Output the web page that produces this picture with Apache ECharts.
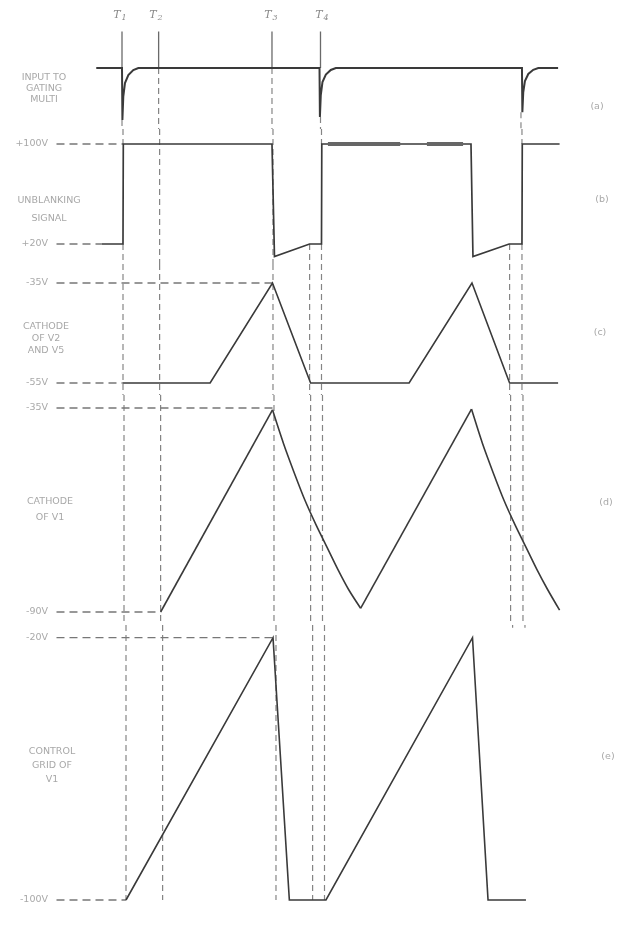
<!DOCTYPE html>
<html><head><meta charset="utf-8">
<script src="https://cdn.jsdelivr.net/npm/echarts@6/dist/echarts.min.js"></script>
<style>html,body{margin:0;padding:0;background:#fff}#c{width:621px;height:930px}</style>
</head><body><div id="c"></div><script>
// ---------- DATA (time in arbitrary units: T1 = 0, T4 = 200) ----------
const timeMarkNames = ['1', '2', '3', '4'];
const timeMarks = [0, 37, 151.5, 200.5];

// (a) Input to gating multi (relative amplitude: 0 = baseline, -1 = full negative pulse)
const inputT = [-26, 0, 0.4, 1.3, 3, 6.4, 11.4, 16.5,
                199.5, 199.9, 200.8, 202.5, 205.9, 210.9, 216,
                404, 404.4, 405.3, 407, 410.4, 415.4, 420.5, 440.5];
const inputV = [0, 0, -1, -0.55, -0.29, -0.135, -0.04, 0,
                0, -0.94, -0.52, -0.27, -0.127, -0.038, 0,
                0, -0.85, -0.47, -0.25, -0.115, -0.034, 0, 0];

// (b) Unblanking signal (V)
const unblankT = [-21.5, 0, 0.3, 150.5, 153, 188.5, 200.5, 200.8, 351.5, 353.5, 390, 403, 403.3, 441];
const unblankV = [20, 20, 100, 100, 10, 20, 20, 100, 100, 10, 20, 20, 100, 100];
const unblankHeavyA = [207, 280];
const unblankHeavyB = [307, 343.5];

// (c) Cathode of V2 and V5 (V)
const cathode25T = [0, 88, 151, 189.5, 289, 352.5, 390.5, 439.5];
const cathode25V = [-55, -55, -35, -55, -55, -35, -55, -55];

// (d) Cathode of V1 (V): linear run-ups and curved run-downs
const cathode1RiseT = [37, 150, 239, 351];
const cathode1RiseV = [-90, -35.5, -89, -35.3];
const cathode1FallAT = [150, 161, 172, 183, 194, 205, 216, 227, 239];
const cathode1FallAV = [-35.5, -44.5, -52.5, -60, -66.5, -72.5, -78.5, -84, -89];
const cathode1FallBT = [351, 362, 373, 384, 395, 406, 417, 428, 440];
const cathode1FallBV = [-35.3, -44.5, -52.5, -60, -66.5, -72.5, -78.5, -84, -89.5];

// (e) Control grid of V1 (V)
const gridT = [0, 148.5, 165, 202, 350, 365.7, 404];
const gridV = [-100, -20, -100, -100, -20, -100, -100];

// voltage tick labels of each panel
const ticksB = [100, 20];
const ticksC = [-35, -55];
const ticksD = [-35, -90];
const ticksE = [-20, -100];

// horizontal reference dashes: [panel, volts, end time]
const refPanel = [1, 1, 2, 2, 3, 3, 4, 4];
const refVolts = [100, 20, -35, -55, -35, -90, -20, -100];
const refEnd   = [0, -21.5, 151, 0, 150, 37, 148.5, 0];

// extra vertical construction lines (times)
const extraMarks = [188.5, 390.5, 403];

const panelNames = ['INPUT TO\nGATING\nMULTI', 'UNBLANKING\nSIGNAL', 'CATHODE\nOF V2\nAND V5', 'CATHODE\nOF V1', 'CONTROL\nGRID OF\nV1'];
const panelTags = ['(a)', '(b)', '(c)', '(d)', '(e)'];

// ---------- LAYOUT ----------
const PXU = 0.99;               // px per time unit
const gridLeft = 56;
const bands = [[0,129],[129,264],[264,395],[395,625],[625,930]];
const baseX = [122, 123, 123, 124, 126];   // pixel of t = 0 in each panel (scan skew)
const refPts = [[0,68,-1,120],[100,144,20,244],[-35,283,-55,383],[-35,408,-90,612],[-20,637.7,-100,900]];
const nameBox = [[44,89,11],[49,210,18],[46,339,12],[50,510,16],[52,766,14]];
const tagBox = [[597,107],[602,200],[600,333],[606,503],[608,757]];
const tLabelX = [120, 156, 271, 322];

const yr = bands.map((b, i) => {
  const [v1, p1, v2, p2] = refPts[i];
  const s = (p2 - p1) / (v1 - v2);
  return { max: v1 + (p1 - b[0]) / s, min: v1 - (b[1] - p1) / s };
});
const zip = (a, b) => a.map((x, i) => [x, b[i]]);

const WAVE = '#3a3a3a', GUIDE = '#858585', TXT = '#a8a8a8';
const grids = [], xAxes = [], yAxes = [], series = [];
const tickSets = [null, ticksB, ticksC, ticksD, ticksE];
bands.forEach((b, i) => {
  grids.push({ left: gridLeft, right: 0, top: b[0], height: b[1] - b[0] });
  xAxes.push({ type: 'value', gridIndex: i, show: false,
    min: (gridLeft - baseX[i]) / PXU, max: (621 - baseX[i]) / PXU });
  yAxes.push({ type: 'value', gridIndex: i, min: yr[i].min, max: yr[i].max,
    show: !!tickSets[i],
    axisLine: { show: false }, axisTick: { show: false }, splitLine: { show: false },
    axisLabel: tickSets[i] ? { customValues: tickSets[i], margin: 8, color: TXT, fontSize: 9.5,
      fontFamily: 'DejaVu Sans', formatter: v => (v > 0 ? '+' : '') + v + 'V' } : { show: false } });
});

function seg(i, t, v1, v2, dashed) {
  series.push({ type: 'line', xAxisIndex: i, yAxisIndex: i, symbol: 'none', silent: true,
    data: [[t, v1], [t, v2]], z: 1,
    lineStyle: { color: dashed ? GUIDE : '#6a6a6a', width: dashed ? 1.2 : 1.3, type: dashed ? [6, 4] : 'solid' } });
}
const TOP = i => yr[i].max, BOT = i => yr[i].min;

// T-lines (solid above waveform a)
timeMarks.forEach(t => seg(0, t, 0.7, 0, false));
// T1
seg(0, timeMarks[0], -1, BOT(0), true); seg(1, timeMarks[0], TOP(1), 100, true); seg(1, timeMarks[0], 20, BOT(1), true);
seg(2, timeMarks[0], TOP(2), BOT(2), true); seg(3, timeMarks[0], TOP(3), BOT(3), true); seg(4, timeMarks[0], TOP(4), -100, true);
// T2, T3
[timeMarks[1], timeMarks[2]].forEach(t => {
  seg(0, t, 0, BOT(0), true); seg(1, t, TOP(1), BOT(1), true); seg(2, t, TOP(2), BOT(2), true);
  seg(3, t, TOP(3), BOT(3), true); seg(4, t, TOP(4), -100, true);
});
// T4
seg(0, timeMarks[3], -0.94, BOT(0), true); seg(1, timeMarks[3], TOP(1), 100, true); seg(1, timeMarks[3], 20, BOT(1), true);
seg(2, timeMarks[3], TOP(2), BOT(2), true); seg(3, timeMarks[3], TOP(3), BOT(3), true); seg(4, timeMarks[3], TOP(4), -100, true);
// extra lines
seg(1, extraMarks[0], 20, BOT(1), true); seg(2, extraMarks[0], TOP(2), BOT(2), true);
seg(3, extraMarks[0], TOP(3), BOT(3), true); seg(4, extraMarks[0], TOP(4), -100, true);
seg(1, extraMarks[1], 20, BOT(1), true); seg(2, extraMarks[1], TOP(2), BOT(2), true); seg(3, extraMarks[1], TOP(3), BOT(3), true);
seg(4, extraMarks[1], TOP(4), -17, true);
seg(0, extraMarks[2], -0.85, BOT(0), true); seg(1, extraMarks[2], TOP(1), 100, true); seg(1, extraMarks[2], 20, BOT(1), true);
seg(2, extraMarks[2], TOP(2), BOT(2), true); seg(3, extraMarks[2], TOP(3), BOT(3), true); seg(4, extraMarks[2], TOP(4), -17, true);

// horizontal reference dashes
refVolts.forEach((v, k) => {
  const i = refPanel[k];
  series.push({ type: 'line', xAxisIndex: i, yAxisIndex: i, symbol: 'none', silent: true, z: 1,
    data: [[xAxes[i].min + 0.5, v], [refEnd[k], v]],
    lineStyle: { color: '#777', width: 1.3, type: [8, 5] } });
});

// waveforms
function wave(i, t, v, w, smooth) {
  series.push({ type: 'line', xAxisIndex: i, yAxisIndex: i, symbol: 'none', silent: true, z: 3,
    smooth: smooth || false,
    data: zip(t, v), lineStyle: { color: WAVE, width: w, join: 'miter' } });
}
wave(0, inputT, inputV, 2);
wave(1, unblankT, unblankV, 1.7);
wave(2, cathode25T, cathode25V, 1.6);
wave(3, cathode1RiseT.slice(0, 2), cathode1RiseV.slice(0, 2), 1.6);
wave(3, cathode1RiseT.slice(2, 4), cathode1RiseV.slice(2, 4), 1.6);
wave(3, cathode1FallAT, cathode1FallAV, 1.6, 0.25);
wave(3, cathode1FallBT, cathode1FallBV, 1.6, 0.25);
wave(4, gridT, gridV, 1.6);
[unblankHeavyA, unblankHeavyB].forEach(h => {
  series.push({ type: 'line', xAxisIndex: 1, yAxisIndex: 1, symbol: 'none', silent: true, z: 4,
    data: [[h[0], 100], [h[1], 100]], lineStyle: { color: '#666', width: 4 } });
});

const graphic = [];
panelNames.forEach((n, i) => graphic.push({ type: 'text', x: nameBox[i][0], y: nameBox[i][1],
  style: { text: n, fill: TXT, font: '9.5px "DejaVu Sans"', align: 'center', verticalAlign: 'middle', lineHeight: nameBox[i][2] } }));
panelTags.forEach((n, i) => graphic.push({ type: 'text', x: tagBox[i][0], y: tagBox[i][1],
  style: { text: n, fill: TXT, font: '9.5px "DejaVu Sans"', align: 'center', verticalAlign: 'middle' } }));
timeMarkNames.forEach((n, i) => graphic.push({ type: 'text', x: tLabelX[i], y: 15,
  style: { text: '{t|T}{s|' + n + '}', align: 'center', verticalAlign: 'middle',
    rich: { t: { font: 'italic 11px "DejaVu Serif"', fill: '#8a8a8a' }, s: { font: 'italic 8px "DejaVu Serif"', fill: '#8a8a8a', padding: [6, 0, 0, 1] } } } }));

const chart = echarts.init(document.getElementById('c'), null, { renderer: 'canvas' });
chart.setOption({ backgroundColor: '#ffffff', animation: false, grid: grids, xAxis: xAxes, yAxis: yAxes, series, graphic });
</script></body></html>
